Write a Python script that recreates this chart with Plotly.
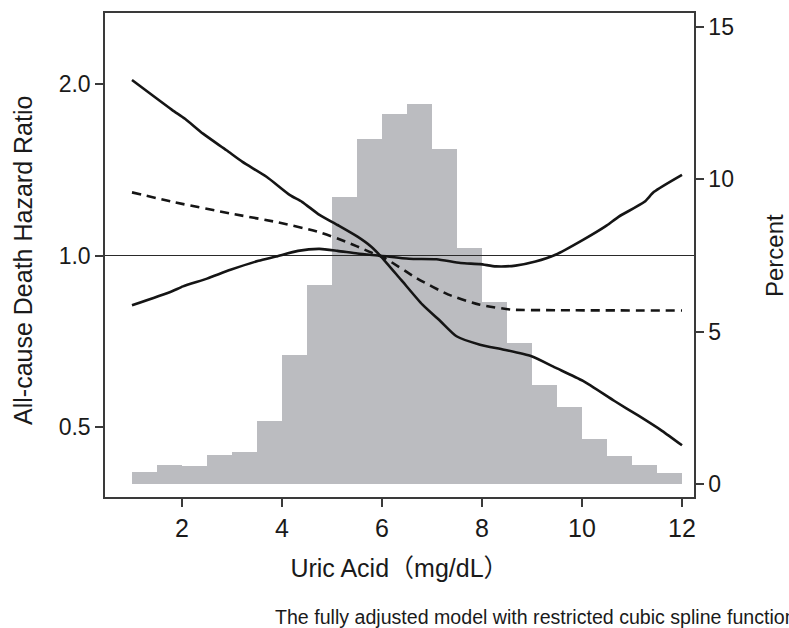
import plotly.graph_objects as go

# Histogram (percent of participants per 0.5 mg/dL bin)
bin_centers = [1.25, 1.75, 2.25, 2.75, 3.25, 3.75, 4.25, 4.75, 5.25, 5.75, 6.25,
               6.75, 7.25, 7.75, 8.25, 8.75, 9.25, 9.75, 10.25, 10.75, 11.25, 11.75]
percent = [0.39, 0.62, 0.59, 0.95, 1.05, 2.07, 4.23, 6.54, 9.41, 11.31, 12.16,
           12.48, 11.01, 7.76, 5.98, 4.64, 3.24, 2.52, 1.47, 0.92, 0.62, 0.37]
bin_width = 0.5

# Spline curves (hazard ratio)
ci_a_x = [1.0, 1.8, 2.06, 2.42, 2.89, 3.21, 3.69, 4.16, 4.40, 4.75, 5.11, 5.51, 5.78, 5.98,
          6.38, 6.81, 7.17, 7.49, 7.96, 8.44, 8.99, 9.47, 10.02, 10.65, 11.13, 11.6, 12.0]
ci_a_y = [2.03, 1.80, 1.736, 1.635, 1.529, 1.459, 1.374, 1.276, 1.242, 1.178, 1.131, 1.079, 1.037, 0.996,
          0.907, 0.820, 0.767, 0.722, 0.698, 0.684, 0.666, 0.636, 0.603, 0.556, 0.524, 0.493, 0.465]

ci_b_x = [1.0, 1.79, 2.02, 2.5, 2.97, 3.53, 3.88, 4.32, 4.75, 5.11, 5.51, 5.98, 6.54, 7.09,
          7.57, 7.96, 8.28, 8.67, 9.07, 9.47, 10.02, 10.49, 10.73, 11.25, 11.44, 12.0]
ci_b_y = [0.818, 0.865, 0.883, 0.911, 0.944, 0.979, 0.996, 1.019, 1.027, 1.019, 1.008, 0.999, 0.987, 0.985,
          0.970, 0.966, 0.957, 0.960, 0.976, 1.003, 1.065, 1.128, 1.169, 1.242, 1.293, 1.385]

est_x = [1.0, 1.86, 2.97, 3.92, 4.71, 5.27, 5.74, 6.06, 6.69, 7.33, 7.96, 8.59, 9.47, 12.0]
est_y = [1.29, 1.239, 1.185, 1.143, 1.101, 1.058, 1.016, 0.989, 0.913, 0.854, 0.820, 0.804, 0.802, 0.801]

ref_x = [0.46, 12.24]
ref_y = [1.0, 1.0]

x_ticks = [2, 4, 6, 8, 10, 12]
hr_ticks = [0.5, 1.0, 2.0]
hr_ticktext = ["0.5", "1.0", "2.0"]
pct_ticks = [0, 5, 10, 15]

AX = "#3a3a3a"
FONT = "Liberation Sans, Arial, sans-serif"
NARROW = "Liberation Sans Narrow, Liberation Sans, Arial, Noto Sans CJK JP, sans-serif"

# plot area in pixels: x 105..694, y 11..497
L, R, T, B = 105, 694, 11, 497
def px(x):
    return (x - L) / (R - L)
def py(y):
    return (B - y) / (B - T)

fig = go.Figure()
fig.add_trace(go.Bar(x=bin_centers, y=percent, width=bin_width, marker=dict(color="#bbbcc0", line=dict(width=0)),
                     yaxis="y", xaxis="x", showlegend=False))
fig.add_trace(go.Scatter(x=ref_x, y=ref_y, mode="lines", line=dict(color="#2a2a2a", width=1.2),
                         yaxis="y2", showlegend=False))
fig.add_trace(go.Scatter(x=ci_a_x, y=ci_a_y, mode="lines", line=dict(color="#151515", width=2.6, shape="spline", smoothing=0.6),
                         yaxis="y2", showlegend=False))
fig.add_trace(go.Scatter(x=ci_b_x, y=ci_b_y, mode="lines", line=dict(color="#151515", width=2.6, shape="spline", smoothing=0.6),
                         yaxis="y2", showlegend=False))
fig.add_trace(go.Scatter(x=est_x, y=est_y, mode="lines", line=dict(color="#151515", width=2.6, dash="9px,6px", shape="spline", smoothing=0.6),
                         yaxis="y2", showlegend=False))

fig.update_layout(
    width=789, height=628,
    margin=dict(l=L, r=789 - R, t=T, b=628 - B),
    paper_bgcolor="white", plot_bgcolor="white",
    bargap=0,
    font=dict(family=FONT, size=20, color="#1a1a1a"),
    xaxis=dict(range=[0.46, 12.24], tickvals=x_ticks, ticks="outside", ticklen=8, tickwidth=1.5, tickcolor=AX,
               showline=True, linecolor=AX, linewidth=1.5, mirror=True, showgrid=False, zeroline=False,
               tickfont=dict(family=NARROW, size=25),
               title=dict(text="Uric Acid（mg/dL）", font=dict(family=NARROW, size=25), standoff=19)),
    yaxis=dict(side="right", range=[-0.425, 15.46], tickvals=pct_ticks, ticks="outside", ticklen=8, tickwidth=1.5,
               tickcolor=AX, showline=True, linecolor=AX, linewidth=1.5, showgrid=False, zeroline=False,
               tickfont=dict(size=23)),
    yaxis2=dict(type="log", overlaying="y", side="left", range=[-0.4231, 0.4249], tickvals=hr_ticks,
                ticktext=hr_ticktext, ticks="outside", ticklen=8, tickwidth=1.5, tickcolor=AX,
                showline=True, linecolor=AX, linewidth=1.5, showgrid=False, zeroline=False,
                tickfont=dict(size=23)),
)

fig.add_annotation(text="All-cause Death Hazard Ratio", xref="paper", yref="paper",
                   x=px(23), y=py(260), xanchor="center", yanchor="middle", textangle=-90,
                   showarrow=False, font=dict(family=FONT, size=25, color="#1a1a1a"))
fig.add_annotation(text="Percent", xref="paper", yref="paper",
                   x=px(775), y=py(255), xanchor="center", yanchor="middle", textangle=-90,
                   showarrow=False, font=dict(family=FONT, size=24, color="#1a1a1a"))
fig.add_annotation(text="The fully adjusted model with restricted cubic spline function",
                   xref="paper", yref="paper", x=px(273), y=py(617),
                   xanchor="left", yanchor="middle", showarrow=False,
                   font=dict(family=FONT, size=19.6, color="#1a1a1a"))

fig.write_html("out.html")
